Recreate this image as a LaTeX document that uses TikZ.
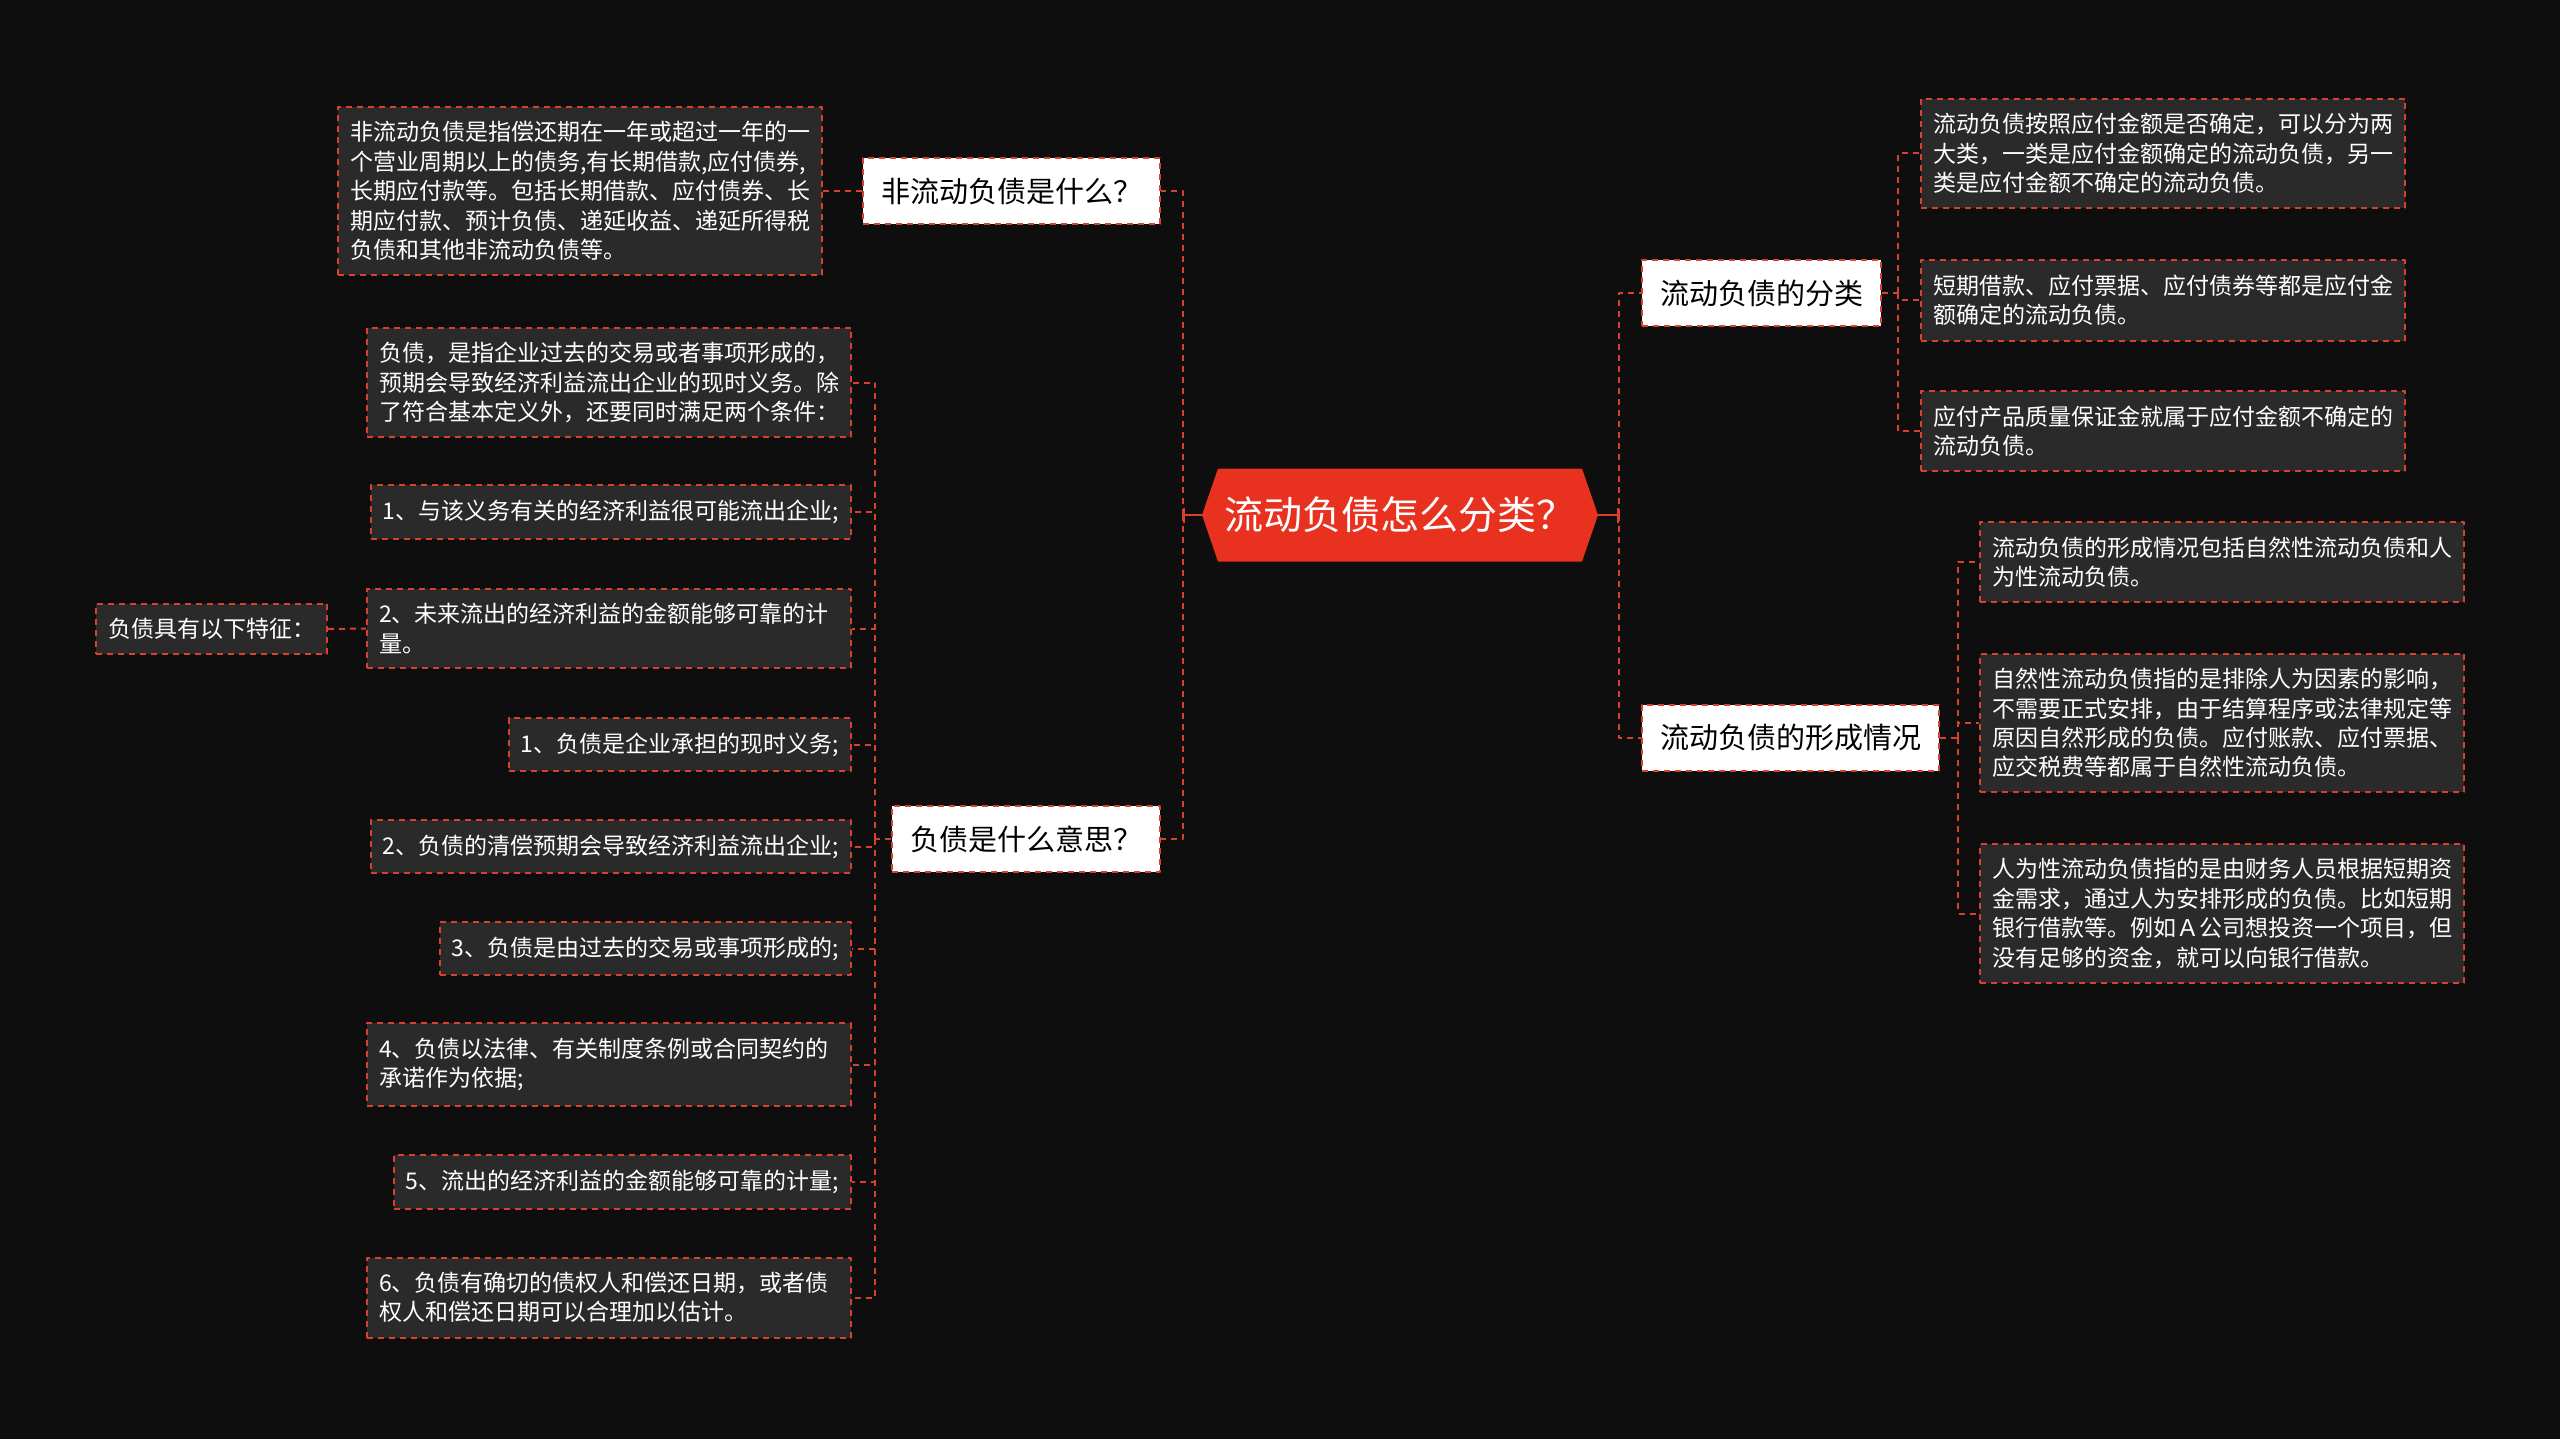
\documentclass[tikz,border=0pt]{standalone}
\usepackage{fontspec}
\setmainfont{Noto Sans CJK SC}
\usetikzlibrary{shapes.symbols,arrows.meta}

\definecolor{pagebg}{HTML}{0E0E0E}
\definecolor{linkred}{HTML}{D9412F}
\definecolor{rootred}{HTML}{E8321F}
\definecolor{leaffill}{HTML}{2A2A2A}

\begin{document}
\begin{tikzpicture}[
  x=0.5pt, y=-0.5pt,
  line join=round,
  link/.style={draw=linkred, line width=1pt, dash pattern=on 3pt off 2.5pt},
  trunk/.style={draw=linkred, line width=1pt, -{Bar[width=7.5pt,line width=1pt]}},
  root/.style={signal, signal to=west and east, signal pointer angle=142,
    fill=rootred, text=white, font=\fontsize{19.5}{23}\selectfont,
    minimum width=198pt, minimum height=46.5pt, inner sep=0pt},
  topic/.style={fill=white, text=black, draw=linkred, line width=1pt,
    dash pattern=on 3pt off 2.5pt, font=\fontsize{14.5}{17}\selectfont,
    inner xsep=9pt, minimum height=33pt},
  leaf/.style={fill=leaffill, text=white, draw=linkred, line width=1pt,
    dash pattern=on 3pt off 2.5pt, font=\fontsize{11.5}{14.7}\selectfont,
    align=left, inner xsep=6pt, inner ysep=7.3pt},
  wide/.style={text width=230pt},
]
\useasboundingbox (0,0) rectangle (2560,1439);
\fill[pagebg] (0,0) rectangle (2560,1439);

% ── the centre and the two hubs beside it ─────────────────────────────────
\node[root] (root) at (1400,515) {流动负债怎么分类？};
\coordinate (lhub) at (1183,515);
\coordinate (rhub) at (1619,515);

% ── first level ───────────────────────────────────────────────────────────
\node[topic, anchor=east] (nonfin)  at (1161,191) {非流动负债是什么？};
\node[topic, anchor=east] (meaning) at (1161,839) {负债是什么意思？};
\node[topic, anchor=west] (kinds)   at (1641,293) {流动负债的分类};
\node[topic, anchor=west] (origin)  at (1641,738) {流动负债的形成情况};

% ── left side: non-current liabilities ────────────────────────────────────
\node[leaf, wide, anchor=east] (nonfintext) at (823,191) {非流动负债是指偿还期在一年或超过一年的一\\个营业周期以上的债务,有长期借款,应付债券,\\长期应付款等。包括长期借款、应付债券、长\\期应付款、预计负债、递延收益、递延所得税\\负债和其他非流动负债等。};

% ── left side: what a liability means ─────────────────────────────────────
\coordinate (mhub) at (875,839);
\node[leaf, wide, anchor=east] (def)   at (852,382.5) {负债，是指企业过去的交易或者事项形成的，\\预期会导致经济利益流出企业的现时义务。除\\了符合基本定义外，还要同时满足两个条件：};
\node[leaf, anchor=east]       (cond1) at (852,512)   {1、与该义务有关的经济利益很可能流出企业;};
\node[leaf, wide, anchor=east] (cond2) at (852,628.5) {2、未来流出的经济利益的金额能够可靠的计\\量。};
\node[leaf, anchor=east]       (feat1) at (852,744.5) {1、负债是企业承担的现时义务;};
\node[leaf, anchor=east]       (feat2) at (852,846.5) {2、负债的清偿预期会导致经济利益流出企业;};
\node[leaf, anchor=east]       (feat3) at (852,948.5) {3、负债是由过去的交易或事项形成的;};
\node[leaf, wide, anchor=east] (feat4) at (852,1064.5) {4、负债以法律、有关制度条例或合同契约的\\承诺作为依据;};
\node[leaf, anchor=east]       (feat5) at (852,1182)  {5、流出的经济利益的金额能够可靠的计量;};
\node[leaf, wide, anchor=east] (feat6) at (852,1297.5) {6、负债有确切的债权人和偿还日期，或者债\\权人和偿还日期可以合理加以估计。};
\node[leaf, anchor=east]       (traits) at (328,629)  {负债具有以下特征：};

% ── right side: the two kinds ─────────────────────────────────────────────
\coordinate (khub) at (1898,293);
\node[leaf, wide, anchor=west] (kind1) at (1920,153.5) {流动负债按照应付金额是否确定，可以分为两\\大类，一类是应付金额确定的流动负债，另一\\类是应付金额不确定的流动负债。};
\node[leaf, wide, anchor=west] (kind2) at (1920,300.5) {短期借款、应付票据、应付债券等都是应付金\\额确定的流动负债。};
\node[leaf, wide, anchor=west] (kind3) at (1920,431)   {应付产品质量保证金就属于应付金额不确定的\\流动负债。};

% ── right side: how they arise ────────────────────────────────────────────
\coordinate (ohub) at (1958,738);
\node[leaf, wide, anchor=west] (orig1) at (1979,562)   {流动负债的形成情况包括自然性流动负债和人\\为性流动负债。};
\node[leaf, wide, anchor=west] (orig2) at (1979,723)   {自然性流动负债指的是排除人为因素的影响，\\不需要正式安排，由于结算程序或法律规定等\\原因自然形成的负债。应付账款、应付票据、\\应交税费等都属于自然性流动负债。};
\node[leaf, wide, anchor=west] (orig3) at (1979,913.5) {人为性流动负债指的是由财务人员根据短期资\\金需求，通过人为安排形成的负债。比如短期\\银行借款等。例如Ａ公司想投资一个项目，但\\没有足够的资金，就可以向银行借款。};

% ── connectors ────────────────────────────────────────────────────────────
\draw[trunk] (root.west) -- (lhub);
\draw[trunk] (root.east) -- (rhub);
\foreach \n in {nonfin,meaning} \draw[link] (lhub) |- (\n.east);
\foreach \n in {kinds,origin}   \draw[link] (rhub) |- (\n.west);

\draw[link] (nonfin.west) -- (nonfintext.east);

\draw[link] (meaning.west) -- (mhub);
\foreach \n in {def,cond1,cond2,feat1,feat2,feat3,feat4,feat5,feat6}
  \draw[link] (mhub) |- (\n.east);
\draw[link] (traits.east) -- (cond2.west);

\draw[link] (kinds.east) -- (khub);
\foreach \n in {kind1,kind2,kind3} \draw[link] (khub) |- (\n.west);

\draw[link] (origin.east) -- (ohub);
\foreach \n in {orig1,orig2,orig3} \draw[link] (ohub) |- (\n.west);

\end{tikzpicture}
\end{document}
